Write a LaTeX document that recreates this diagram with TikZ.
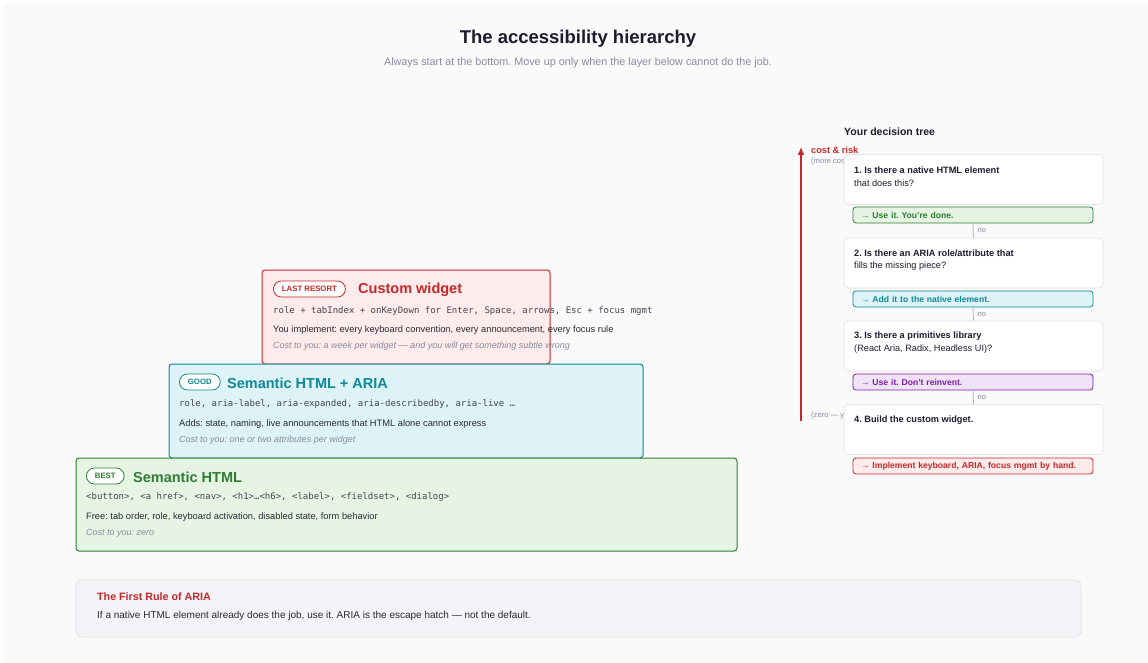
\documentclass[tikz,border=0pt]{standalone}
\usepackage{fontspec}
\setmainfont{Liberation Sans}
\setmonofont{DejaVu Sans Mono}
\usetikzlibrary{arrows.meta}
\frenchspacing

\definecolor{pagebg}{HTML}{FAFAFA}
\definecolor{ink}{HTML}{1C1C2E}
\definecolor{subgray}{HTML}{8A8AA2}
\definecolor{bodyink}{HTML}{2A2A33}
\definecolor{codegray}{HTML}{45454F}
\definecolor{costgray}{HTML}{8A8A9C}
\definecolor{redB}{HTML}{C62828}
\definecolor{redF}{HTML}{FDECEB}
\definecolor{tealB}{HTML}{0E8A94}
\definecolor{tealF}{HTML}{DDF3F8}
\definecolor{greenB}{HTML}{2E7D32}
\definecolor{greenF}{HTML}{E6F4E4}
\definecolor{purpB}{HTML}{7B1FA2}
\definecolor{purpF}{HTML}{F0E3F5}
\definecolor{qline}{HTML}{E2E2EA}
\definecolor{noline}{HTML}{B4B4C2}
\definecolor{noteF}{HTML}{F3F3F8}

\tikzset{
  layer/.style={line width=1pt, rounded corners=3pt},
  badge/.style={draw=#1, text=#1, fill=white, rounded corners=8pt, line width=0.8pt,
    font=\bfseries\fontsize{7.8}{9}\selectfont, inner xsep=8.5pt, inner ysep=0pt,
    minimum height=16pt, anchor=west},
  ltitle/.style={text=#1, font=\bfseries\fontsize{14.5}{17}\selectfont, anchor=west, inner sep=0pt},
  code/.style={text=codegray, font=\ttfamily\fontsize{9}{11}\selectfont, anchor=west, inner sep=0pt},
  body/.style={text=bodyink, font=\fontsize{9.3}{11}\selectfont, anchor=west, inner sep=0pt},
  cost/.style={text=costgray, font=\itshape\fontsize{9}{10}\selectfont, anchor=west, inner sep=0pt},
  qbox/.style={draw=qline, fill=white, rounded corners=4pt, line width=0.8pt,
    minimum width=259pt, minimum height=50pt, inner sep=0pt},
  qtext/.style={text=ink, font=\fontsize{9.2}{11}\selectfont, anchor=west, inner sep=0pt},
  qhead/.style={qtext, font=\bfseries\fontsize{9.2}{11}\selectfont},
  pill/.style={draw=#1, text=#1, rounded corners=3pt, line width=0.8pt,
    font=\bfseries\fontsize{8.6}{10}\selectfont, text width=224pt, align=left,
    inner xsep=8pt, inner ysep=0pt, minimum height=16pt},
  nolabel/.style={text=subgray, font=\fontsize{7.6}{9}\selectfont, inner sep=0pt}
}

\begin{document}
\begin{tikzpicture}[x=1pt,y=-1pt]
  \useasboundingbox (0,0) rectangle (1148,663);
  \fill[white] (0,0) rectangle (1148,663);
  \fill[pagebg] (4,4) rectangle (1148,663);

  % heading
  \node[text=ink, font=\bfseries\fontsize{18.5}{22}\selectfont] (title) at (578,39) {The accessibility hierarchy};
  \node[text=subgray, font=\fontsize{10.8}{12}\selectfont] (subtitle) at (578,63) {Always start at the bottom. Move up only when the layer below cannot do the job.};

  % top layer
  \draw[layer, draw=redB, fill=redF] (262,270) rectangle (550,364);
  \node[badge=redB] (lastres) at (273,289) {LAST RESORT};
  \node[ltitle=redB] (customtitle) at (358,290) {Custom widget};
  \node[code] (customcode) at (273,311) {role + tabIndex + onKeyDown for Enter, Space, arrows, Esc + focus mgmt};
  \node[body] (custombody) at (273,330) {You implement: every keyboard convention, every announcement, every focus rule};
  \node[cost] (customcost) at (273,346) {Cost to you: a week per widget --- and you will get something subtle wrong};

  % middle layer
  \draw[layer, draw=tealB, fill=tealF] (169,364) rectangle (643,458);
  \node[badge=tealB] (good) at (179,382) {GOOD};
  \node[ltitle=tealB] (ariatitle) at (227,383) {Semantic HTML + ARIA};
  \node[code] (ariacode) at (179,404) {role, aria-label, aria-expanded, aria-describedby, aria-live …};
  \node[body] (ariabody) at (179,424) {Adds: state, naming, live announcements that HTML alone cannot express};
  \node[cost] (ariacost) at (179,440) {Cost to you: one or two attributes per widget};

  % bottom layer
  \draw[layer, draw=greenB, fill=greenF] (76,458) rectangle (737,551);
  \node[badge=greenB] (best) at (86,476) {BEST};
  \node[ltitle=greenB] (htmltitle) at (133,477) {Semantic HTML};
  \node[code] (htmlcode) at (86,497) {<button>, <a href>, <nav>, <h1>…<h6>, <label>, <fieldset>, <dialog>};
  \node[body] (htmlbody) at (86,517) {Free: tab order, role, keyboard activation, disabled state, form behavior};
  \node[cost] (htmlcost) at (86,533) {Cost to you: zero};

  % cost axis
  \coordinate (axbot) at (801,421);
  \coordinate (axtop) at (801,147);
  \draw[redB, line width=1.3pt, -{Latex[length=8pt,width=7pt]}] (axbot) -- (axtop);
  \node[text=redB, font=\bfseries\fontsize{9.2}{10}\selectfont, anchor=west, inner sep=0pt] (risk) at (811,150) {cost \& risk};
  \node[nolabel, anchor=west] (morecost) at (811,162) {(more cost)};
  \node[nolabel, anchor=west] (zerocost) at (811,416) {(zero --- you)};

  % decision tree
  \node[text=ink, font=\bfseries\fontsize{10.5}{12}\selectfont, anchor=west, inner sep=0pt] (treetitle) at (844,132) {Your decision tree};

  \node[qbox] (q1) at (973.5,179.5) {};
  \node[qhead] at (854,170) {1. Is there a native HTML element};
  \node[qtext] at (854,183) {that does this?};
  \node[pill=greenB, fill=greenF] (p1) at (973,215) {→ Use it. You’re done.};

  \node[qbox] (q2) at (973.5,263) {};
  \node[qhead] at (854,253) {2. Is there an ARIA role/attribute that};
  \node[qtext] at (854,266) {fills the missing piece?};
  \node[pill=tealB, fill=tealF] (p2) at (973,299) {→ Add it to the native element.};

  \node[qbox] (q3) at (973.5,346) {};
  \node[qhead] at (854,336) {3. Is there a primitives library};
  \node[qtext] at (854,349) {(React Aria, Radix, Headless UI)?};
  \node[pill=purpB, fill=purpF] (p3) at (973,382) {→ Use it. Don’t reinvent.};

  \node[qbox] (q4) at (973.5,429.5) {};
  \node[qhead] at (854,420) {4. Build the custom widget.};
  \node[pill=redB, fill=redF] (p4) at (973,466) {→ Implement keyboard, ARIA, focus mgmt by hand.};

  \draw[noline, line width=0.8pt] (p1.south) -- (q2.north) node[midway, right=4pt, nolabel] {no};
  \draw[noline, line width=0.8pt] (p2.south) -- (q3.north) node[midway, right=4pt, nolabel] {no};
  \draw[noline, line width=0.8pt] (p3.south) -- (q4.north) node[midway, right=4pt, nolabel] {no};

  % the rule
  \draw[draw=qline, fill=noteF, rounded corners=6pt, line width=0.8pt] (76,580) rectangle (1081,637);
  \node[text=redB, font=\bfseries\fontsize{10.7}{12}\selectfont, anchor=west, inner sep=0pt] (ruletitle) at (97,597) {The First Rule of ARIA};
  \node[text=bodyink, font=\fontsize{10}{11}\selectfont, anchor=west, inner sep=0pt] (ruletext) at (97,616) {If a native HTML element already does the job, use it. ARIA is the escape hatch --- not the default.};
\end{tikzpicture}
\end{document}
